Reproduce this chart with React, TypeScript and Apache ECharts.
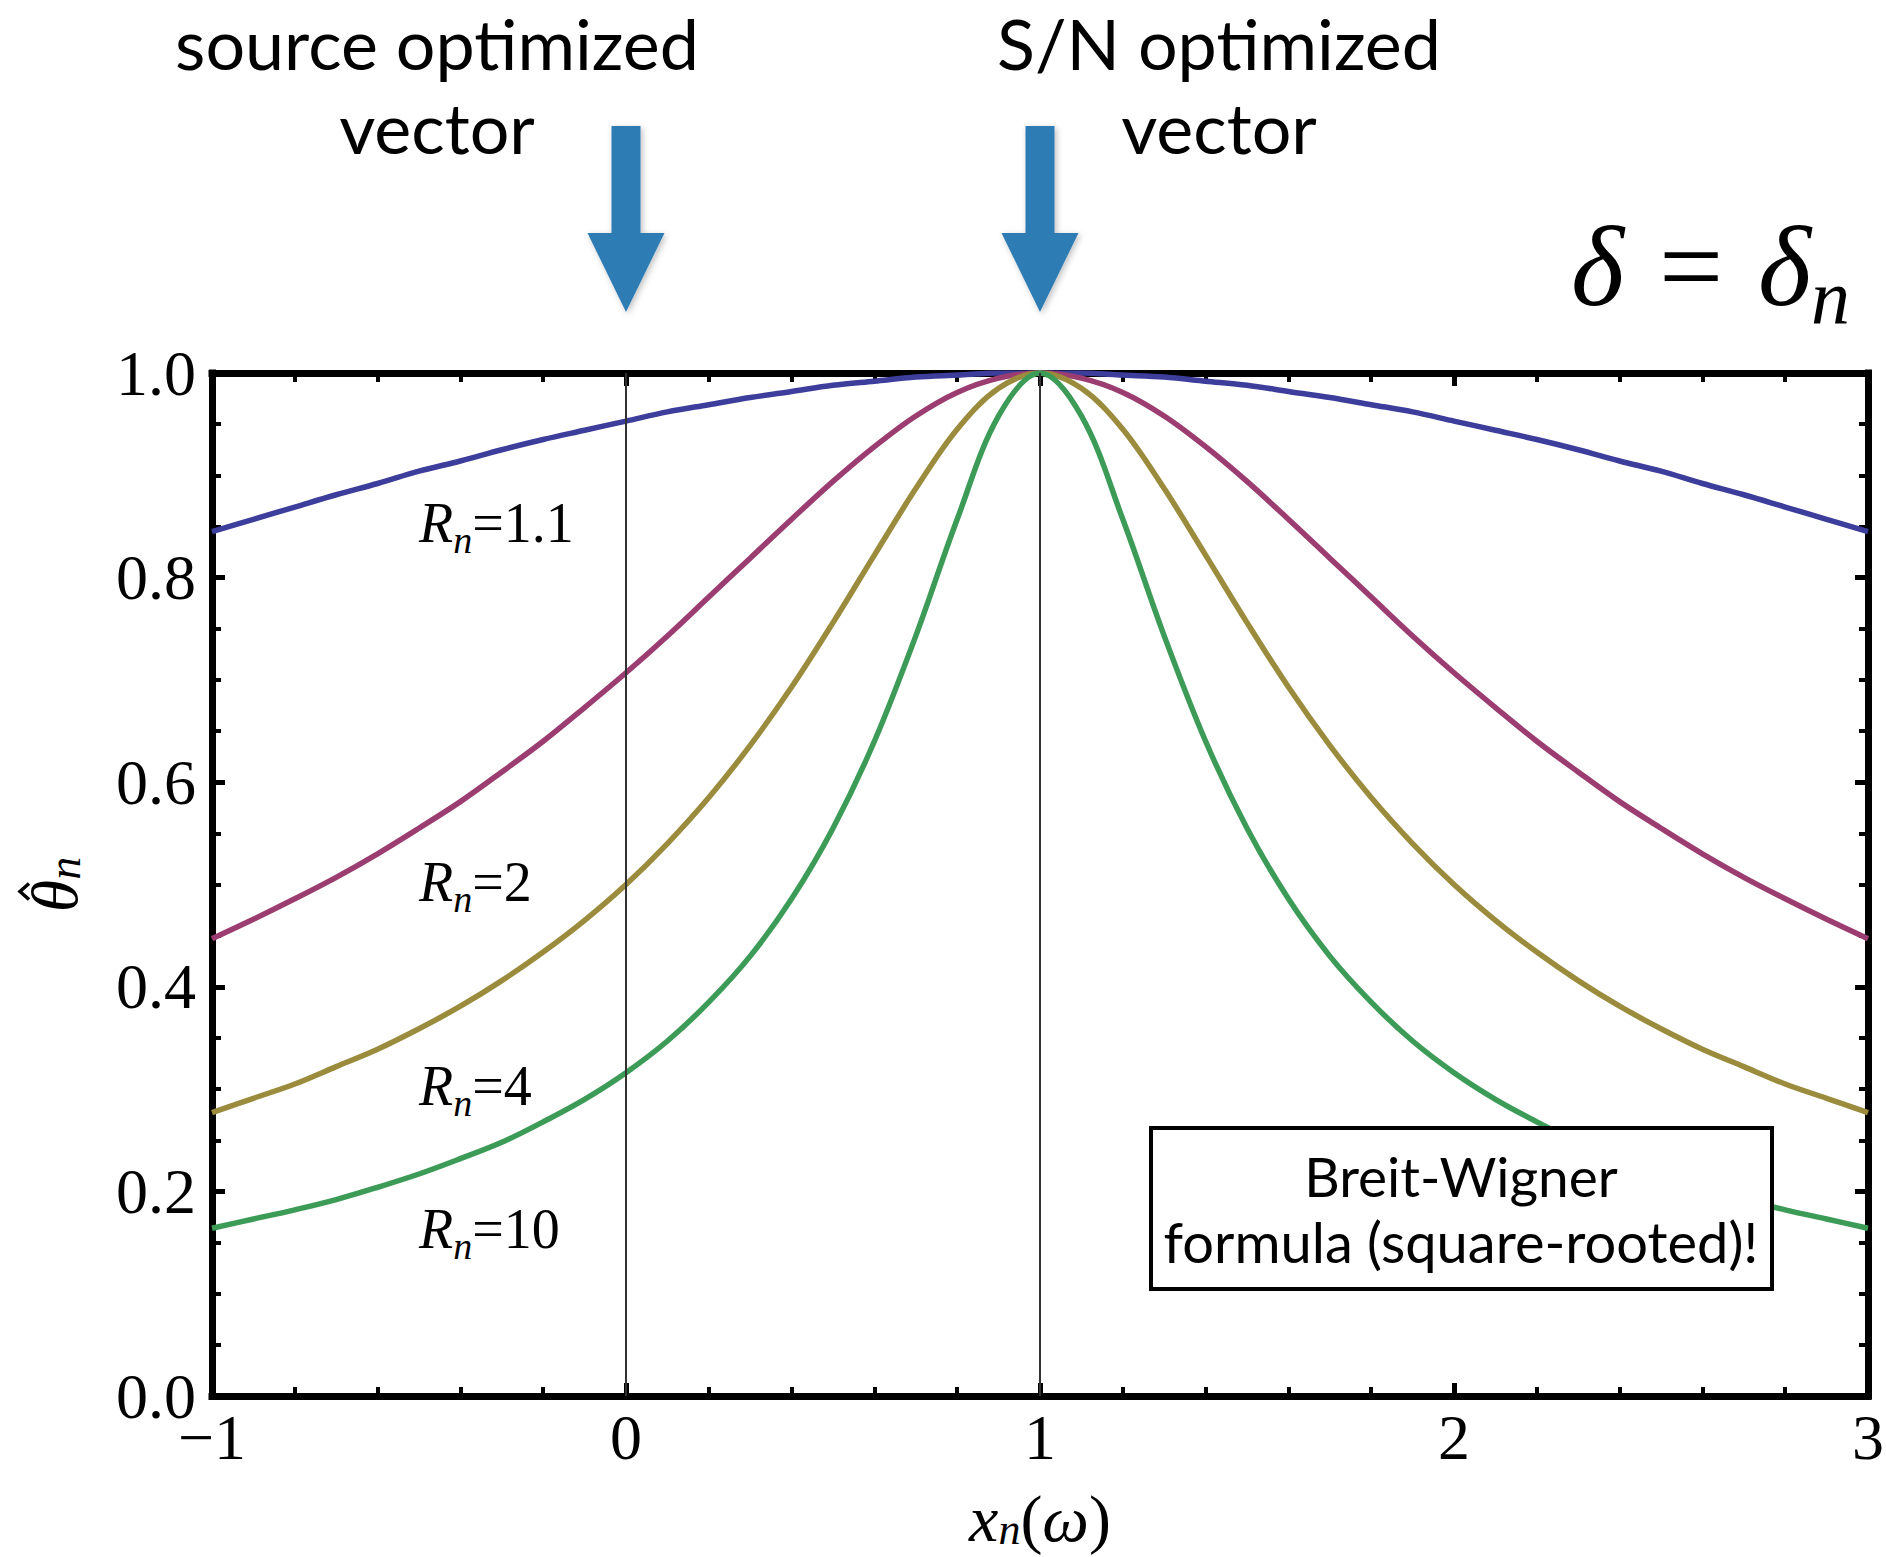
import React, { useEffect, useRef } from "react";
import * as echarts from "echarts";

const X_VALUES = [
  -1, -0.9, -0.8, -0.7, -0.6, -0.5, -0.4, -0.3, -0.2, -0.1, 0, 0.1, 0.2, 0.3, 0.4, 0.5, 0.6, 0.7, 0.8, 0.9,
  1, 1.1, 1.2, 1.3, 1.4, 1.5, 1.6, 1.7, 1.8, 1.9, 2, 2.1, 2.2, 2.3, 2.4, 2.5, 2.6, 2.7, 2.8, 2.9, 3,
];

const THETA_R1_1 = [
  0.845, 0.857, 0.869, 0.881, 0.892, 0.904, 0.914, 0.925, 0.935, 0.944, 0.953, 0.962, 0.969, 0.976, 0.982, 0.988, 0.992, 0.996, 0.998, 1.0,
  1.0, 1.0, 0.998, 0.996, 0.992, 0.988, 0.982, 0.976, 0.969, 0.962, 0.953, 0.944, 0.935, 0.925, 0.914, 0.904, 0.892, 0.881, 0.869, 0.857, 0.845,
];
const THETA_R2 = [
  0.447, 0.466, 0.486, 0.507, 0.53, 0.555, 0.581, 0.61, 0.64, 0.673, 0.707, 0.743, 0.781, 0.819, 0.857, 0.894, 0.928, 0.958, 0.981, 0.995,
  1.0, 0.995, 0.981, 0.958, 0.928, 0.894, 0.857, 0.819, 0.781, 0.743, 0.707, 0.673, 0.64, 0.61, 0.581, 0.555, 0.53, 0.507, 0.486, 0.466, 0.447,
];
const THETA_R4 = [
  0.277, 0.291, 0.305, 0.322, 0.339, 0.359, 0.381, 0.406, 0.434, 0.465, 0.5, 0.54, 0.585, 0.636, 0.693, 0.756, 0.822, 0.887, 0.945, 0.985,
  1.0, 0.985, 0.945, 0.887, 0.822, 0.756, 0.693, 0.636, 0.585, 0.54, 0.5, 0.465, 0.434, 0.406, 0.381, 0.359, 0.339, 0.322, 0.305, 0.291, 0.277,
];
const THETA_R10 = [
  0.164, 0.173, 0.182, 0.192, 0.204, 0.217, 0.232, 0.248, 0.268, 0.29, 0.316, 0.347, 0.385, 0.43, 0.486, 0.555, 0.64, 0.743, 0.857, 0.958,
  1.0, 0.958, 0.857, 0.743, 0.64, 0.555, 0.486, 0.43, 0.385, 0.347, 0.316, 0.29, 0.268, 0.248, 0.232, 0.217, 0.204, 0.192, 0.182, 0.173, 0.164,
];

const SERIES_VALUES = [THETA_R1_1, THETA_R2, THETA_R4, THETA_R10];
const R_LABELS = ["1.1", "2", "4", "10"];
const R_LABEL_X = [-0.5, -0.5, -0.5, -0.5];
const R_LABEL_Y = [0.853, 0.502, 0.303, 0.163];
const COLORS = ["#3d3d9c", "#9b3d70", "#9b8b3d", "#3d9b58"];
const MARKED_X = [0, 1];

const SERIF = "'Liberation Serif', 'Times New Roman', serif";
const SANS = "Lato, 'Open Sans', sans-serif";

export default function App() {
  const ref = useRef<HTMLDivElement>(null);

  useEffect(() => {
    if (!ref.current) return;
    const chart = echarts.init(ref.current, null, { renderer: "svg" });

    const frameLine = { show: true, onZero: false, lineStyle: { color: "#000", width: 7, cap: "square" } };
    const majorTick = { show: true, inside: true, length: 13, lineStyle: { color: "#000", width: 5 } };
    const minorTick = (n: number) => ({ show: true, splitNumber: n, length: 9, lineStyle: { color: "#000", width: 4 } });

    const series: any[] = SERIES_VALUES.map((vals, i) => ({
      type: "line",
      name: "R_n=" + R_LABELS[i],
      data: X_VALUES.map((x, j) => [x, vals[j]]),
      showSymbol: false,
      smooth: 0.35,
      lineStyle: { color: COLORS[i], width: 5.5 },
      itemStyle: { color: COLORS[i] },
      z: 3,
      markLine:
        i === 0
          ? {
              silent: true,
              symbol: ["none", "none"],
              label: { show: false },
              lineStyle: { color: "#333", width: 2, type: "solid" },
              data: MARKED_X.map((x) => ({ xAxis: x })),
            }
          : undefined,
    }));

    chart.setOption({
      animation: false,
      backgroundColor: "#fff",
      grid: { left: 212, right: 18, top: 373, bottom: 161, containLabel: false, outerBoundsMode: "none" },
      xAxis: [
        {
          type: "value",
          min: -1,
          max: 3,
          interval: 1,
          position: "bottom",
          axisLine: frameLine,
          axisTick: majorTick,
          minorTick: minorTick(5),
          splitLine: { show: false },
          axisLabel: {
            margin: 9,
            fontFamily: SERIF,
            fontSize: 64,
            color: "#000",
            formatter: (v: number) => (v < 0 ? "\u2212" + Math.abs(v) : String(v)),
          },
        },
        {
          type: "value",
          min: -1,
          max: 3,
          interval: 1,
          position: "top",
          axisLine: frameLine,
          axisTick: majorTick,
          minorTick: minorTick(5),
          splitLine: { show: false },
          axisLabel: { show: false },
        },
      ],
      yAxis: [
        {
          type: "value",
          min: 0,
          max: 1,
          interval: 0.2,
          position: "left",
          axisLine: frameLine,
          axisTick: majorTick,
          minorTick: minorTick(4),
          splitLine: { show: false },
          axisLabel: {
            margin: 16,
            fontFamily: SERIF,
            fontSize: 64,
            color: "#000",
            formatter: (v: number) => v.toFixed(1),
          },
        },
        {
          type: "value",
          min: 0,
          max: 1,
          interval: 0.2,
          position: "right",
          axisLine: frameLine,
          axisTick: majorTick,
          minorTick: minorTick(4),
          splitLine: { show: false },
          axisLabel: { show: false },
        },
      ],
      series,
    });

    const toPx = (x: number, y: number) => chart.convertToPixel({ gridIndex: 0 }, [x, y]) as number[];

    const graphics: any[] = [];

    // arrows pointing at the marked x positions
    MARKED_X.forEach((xv) => {
      const cx = toPx(xv, 1)[0];
      graphics.push({
        type: "polygon",
        z: 50,
        shape: {
          points: [
            [cx - 14.5, 126],
            [cx + 14.5, 126],
            [cx + 14.5, 233],
            [cx + 38.5, 233],
            [cx, 312],
            [cx - 38.5, 233],
            [cx - 14.5, 233],
          ],
        },
        style: {
          fill: "#2e7cb4",
          shadowBlur: 6,
          shadowColor: "rgba(0,0,0,0.25)",
          shadowOffsetX: 2,
          shadowOffsetY: 2,
        },
      });
    });

    const topTexts = [
      { text: "source optimized", x: 437, y: 43 },
      { text: "vector", x: 437, y: 127 },
      { text: "S/N optimized", x: 1219, y: 43 },
      { text: "vector", x: 1219, y: 127 },
    ];
    topTexts.forEach((t) =>
      graphics.push({
        type: "text",
        z: 50,
        x: t.x,
        y: t.y,
        style: {
          text: t.text,
          fontFamily: SANS,
          fontSize: 70,
          fill: "#000",
          align: "center",
          verticalAlign: "middle",
        },
      })
    );

    // delta = delta_n
    graphics.push({
      type: "text",
      z: 50,
      x: 1850,
      y: 266,
      style: {
        text: "{i|\u03b4}{p|\u2009=\u2009}{i|\u03b4}{s|n}",
        align: "right",
        verticalAlign: "middle",
        rich: {
          i: { fontFamily: SERIF, fontStyle: "italic", fontSize: 114, fill: "#000", lineHeight: 140 },
          p: { fontFamily: SERIF, fontSize: 114, fill: "#000", lineHeight: 140, padding: [0, 12, 0, 12] },
          s: { fontFamily: SERIF, fontStyle: "italic", fontSize: 78, fill: "#000", lineHeight: 78, verticalAlign: "bottom" },
        },
      },
    });

    // x axis name: x_n(omega)
    const xNamePos = toPx(1, 0);
    graphics.push({
      type: "text",
      z: 50,
      x: xNamePos[0],
      y: xNamePos[1] + 122,
      style: {
        text: "{i|x}{s|n}{p|(}{i|\u03c9}{p|)}",
        align: "center",
        verticalAlign: "middle",
        rich: {
          i: { fontFamily: SERIF, fontStyle: "italic", fontSize: 66, fill: "#000", lineHeight: 66 },
          p: { fontFamily: SERIF, fontSize: 66, fill: "#000", lineHeight: 66 },
          s: { fontFamily: SERIF, fontStyle: "italic", fontSize: 44, fill: "#000", lineHeight: 22, verticalAlign: "bottom" },
        },
      },
    });

    // y axis name: theta-hat with subscript n, rotated
    const yMid = toPx(-1, 0.5)[1];
    graphics.push({
      type: "group",
      x: 54,
      y: yMid,
      rotation: Math.PI / 2,
      z: 50,
      children: [
        {
          type: "text",
          x: 0,
          y: 0,
          style: {
            text: "{t|\u03b8}{s|n}",
            align: "center",
            verticalAlign: "middle",
            rich: {
              t: { fontFamily: SERIF, fontStyle: "italic", fontSize: 66, fill: "#000", lineHeight: 66 },
              s: { fontFamily: SERIF, fontStyle: "italic", fontSize: 46, fill: "#000", lineHeight: 24, verticalAlign: "bottom" },
            },
          },
        },
        {
          type: "polyline",
          shape: { points: [[-15, -25], [-7, -34], [1, -25]] },
          style: { stroke: "#000", lineWidth: 3.5, fill: null },
        },
      ],
    });

    R_LABELS.forEach((lab, i) => {
      const p = toPx(R_LABEL_X[i], R_LABEL_Y[i]);
      graphics.push({
        type: "text",
        z: 50,
        x: p[0],
        y: p[1],
        style: {
          text: "{i|R}{s|n}{p|=" + lab + "}",
          align: "left",
          verticalAlign: "middle",
          rich: {
            i: { fontFamily: SERIF, fontStyle: "italic", fontSize: 56, fill: "#000", lineHeight: 72 },
            p: { fontFamily: SERIF, fontSize: 56, fill: "#000", lineHeight: 72 },
            s: { fontFamily: SERIF, fontStyle: "italic", fontSize: 38, fill: "#000", lineHeight: 38, verticalAlign: "bottom" },
          },
        },
      });
    });

    // Breit-Wigner box
    graphics.push({
      type: "rect",
      z: 60,
      shape: { x: 1151, y: 1128, width: 621, height: 161 },
      style: { fill: "#fff", stroke: "#000", lineWidth: 4 },
    });
    graphics.push({
      type: "text",
      z: 61,
      x: 1461,
      y: 1176,
      style: { text: "Breit-Wigner", fontFamily: SANS, fontSize: 55, fill: "#000", align: "center", verticalAlign: "middle" },
    });
    graphics.push({
      type: "text",
      z: 61,
      x: 1461,
      y: 1241,
      style: {
        text: "formula (square-rooted)!",
        fontFamily: SANS,
        fontSize: 56,
        fill: "#000",
        align: "center",
        verticalAlign: "middle",
      },
    });

    chart.setOption({ graphic: graphics });

    return () => chart.dispose();
  }, []);

  return (
    <div
      ref={ref}
      style={{ position: "absolute", left: 0, top: 0, width: 1886, height: 1557, background: "#fff" }}
    />
  );
}
